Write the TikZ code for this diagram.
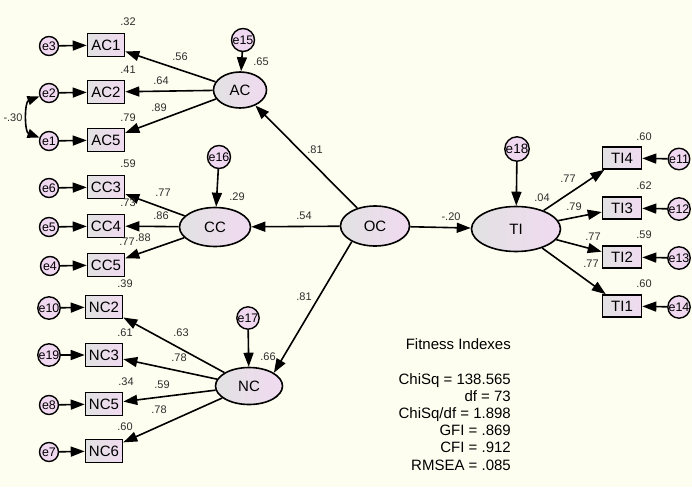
\documentclass[tikz,border=0pt]{standalone}
\usepackage{fontspec}
\setmainfont{Liberation Sans}
\usetikzlibrary{arrows.meta,shapes.geometric}
\definecolor{bgc}{RGB}{254,254,240}
\definecolor{shl}{RGB}{226,226,226}
\definecolor{shr}{RGB}{240,218,240}
\definecolor{errc}{RGB}{240,216,240}
\definecolor{lblc}{RGB}{45,45,45}
\begin{document}
\begin{tikzpicture}[x=1pt,y=-1pt,
  obs/.style={draw, line width=1.6pt, rectangle, minimum width=37pt, minimum height=23pt, inner sep=0pt, left color=shl, right color=shr, font=\fontsize{15}{15}\selectfont},
  lat/.style={draw, ellipse, line width=1.6pt, inner sep=0pt, left color=shl, right color=shr, font=\fontsize{15}{15}\selectfont},
  err/.style={draw, circle, line width=1.4pt, fill=errc, inner sep=0pt, minimum size=19pt, font=\fontsize{12.4}{12}\selectfont},
  lbl/.style={font=\fontsize{11}{12}\selectfont, text=lblc, inner sep=0pt},
  fit/.style={font=\fontsize{15}{17}\selectfont, inner sep=0pt, anchor=base east},
  arr/.style={-{Triangle[length=14pt,width=10pt]}, line width=1.6pt},
  arrb/.style={{Triangle[length=12pt,width=9pt]}-{Triangle[length=12pt,width=9pt]}, line width=1.6pt}
]
\fill[bgc] (0,0) rectangle (692,487);
\useasboundingbox (0,0) rectangle (692,487);

% latent
\node[lat, minimum width=53pt, minimum height=36pt] (AC) at (240,90) {AC};
\node[lat, minimum width=71pt, minimum height=39pt] (CC) at (215,227) {CC};
\node[lat, minimum width=69pt, minimum height=40pt] (OC) at (375,226) {OC};
\node[lat, minimum width=67pt, minimum height=37pt] (NC) at (249,386) {NC};
\node[lat, minimum width=89pt, minimum height=45pt] (TI) at (516,229) {TI};

% disturbances
\node[err, minimum size=23pt] (e15) at (243,40) {e15};
\node[err, minimum size=23pt] (e16) at (219,157) {e16};
\node[err, minimum size=22pt] (e17) at (248,318) {e17};
\node[err, minimum size=24pt, font=\fontsize{13.5}{13}\selectfont] (e18) at (517,149) {e18};

% observed
\node[obs] (AC1) at (106,45) {AC1};
\node[obs] (AC2) at (106,92) {AC2};
\node[obs] (AC5) at (106,140) {AC5};
\node[obs] (CC3) at (106,187) {CC3};
\node[obs] (CC4) at (106,226) {CC4};
\node[obs] (CC5) at (106,265) {CC5};
\node[obs] (NC2) at (104,307) {NC2};
\node[obs] (NC3) at (104,355) {NC3};
\node[obs] (NC5) at (104,404) {NC5};
\node[obs] (NC6) at (104,451) {NC6};
\node[obs, minimum width=39pt, minimum height=22pt] (TI4) at (622,158) {TI4};
\node[obs, minimum width=39pt, minimum height=22pt] (TI3) at (622,208) {TI3};
\node[obs, minimum width=39pt, minimum height=22pt] (TI2) at (622,257) {TI2};
\node[obs, minimum width=39pt, minimum height=22pt] (TI1) at (622,306) {TI1};

% errors
\node[err] (e3) at (49,46) {e3};
\node[err] (e2) at (49,93) {e2};
\node[err] (e1) at (49,141) {e1};
\node[err] (e6) at (49,188) {e6};
\node[err] (e5) at (49,227) {e5};
\node[err] (e4) at (50,266) {e4};
\node[err] (e10) at (49,308) {e10};
\node[err] (e19) at (49,355) {e19};
\node[err] (e8) at (49,405) {e8};
\node[err] (e7) at (49,452) {e7};
\node[err, minimum size=21pt] (e11) at (679,159) {e11};
\node[err, minimum size=21pt] (e12) at (679,209) {e12};
\node[err, minimum size=21pt] (e13) at (679,258) {e13};
\node[err, minimum size=21pt] (e14) at (679,307) {e14};

% structural paths
\draw[arr] (OC) -- (AC);
\draw[arr] (OC) -- (CC);
\draw[arr] (OC.214) -- (NC.28);
\draw[arr] (OC) -- (TI);
\draw[arr] (e15) -- (AC);
\draw[arr] (e16) -- (CC);
\draw[arr] (e17) -- (NC);
\draw[arr] (e18) -- (TI);

% loadings
\foreach \t in {AC1,AC2,AC5} \draw[arr] (AC) -- (\t);
\foreach \t in {CC3,CC4,CC5} \draw[arr] (CC) -- (\t);
\foreach \t in {NC2,NC3,NC5,NC6} \draw[arr] (NC) -- (\t);
\foreach \t in {TI4,TI3,TI2,TI1} \draw[arr] (TI) -- (\t);

% error arrows
\draw[arr] (e3) -- (AC1);
\draw[arr] (e2) -- (AC2);
\draw[arr] (e1) -- (AC5);
\draw[arr] (e6) -- (CC3);
\draw[arr] (e5) -- (CC4);
\draw[arr] (e4) -- (CC5);
\draw[arr] (e10) -- (NC2);
\draw[arr] (e19) -- (NC3);
\draw[arr] (e8) -- (NC5);
\draw[arr] (e7) -- (NC6);
\draw[arr] (e11) -- (TI4);
\draw[arr] (e12) -- (TI3);
\draw[arr] (e13) -- (TI2);
\draw[arr] (e14) -- (TI1);

% covariance
\draw[arrb] (e2) to[out=200,in=160] (e1);

% labels
\node[lbl] at (128,22) {.32};
\node[lbl] at (128,70) {.41};
\node[lbl] at (128,118) {.79};
\node[lbl] at (180,57) {.56};
\node[lbl] at (161,81) {.64};
\node[lbl] at (159,108) {.89};
\node[lbl] at (261,62) {.65};
\node[lbl] at (13,118) {-.30};

\node[lbl] at (128,164) {.59};
\node[lbl] at (163,193) {.77};
\node[lbl] at (237,197) {.29};
\node[lbl] at (128,203) {.73};
\node[lbl] at (161,216) {.86};
\node[lbl] at (127,242) {.77};
\node[lbl] at (143,238) {.88};

\node[lbl] at (125,284) {.39};
\node[lbl] at (181,333) {.63};
\node[lbl] at (125,333) {.61};
\node[lbl] at (179,358) {.78};
\node[lbl] at (268,357) {.66};
\node[lbl] at (126,382) {.34};
\node[lbl] at (162,385) {.59};
\node[lbl] at (159,410) {.78};
\node[lbl] at (125,427) {.60};

\node[lbl] at (315,150) {.81};
\node[lbl] at (304,216) {.54};
\node[lbl] at (304,297) {.81};
\node[lbl] at (451,217) {-.20};

\node[lbl] at (542,198) {.04};
\node[lbl] at (644,137) {.60};
\node[lbl] at (644,186) {.62};
\node[lbl] at (644,235) {.59};
\node[lbl] at (644,284) {.60};
\node[lbl] at (568,179) {.77};
\node[lbl] at (574,207) {.79};
\node[lbl] at (593,237) {.77};
\node[lbl] at (591,264) {.77};

% fitness
\node[fit] (f0) at (511,349.5) {Fitness Indexes};
\node[fit] (f1) at (511,384.5) {ChiSq = 138.565};
\node[fit] (f2) at (511,401.5) {df = 73};
\node[fit] (f3) at (511,418.5) {ChiSq/df = 1.898};
\node[fit] (f4) at (511,435.5) {GFI = .869};
\node[fit] (f5) at (511,452.5) {CFI = .912};
\node[fit] (f6) at (511,470.5) {RMSEA = .085};
\end{tikzpicture}
\end{document}
